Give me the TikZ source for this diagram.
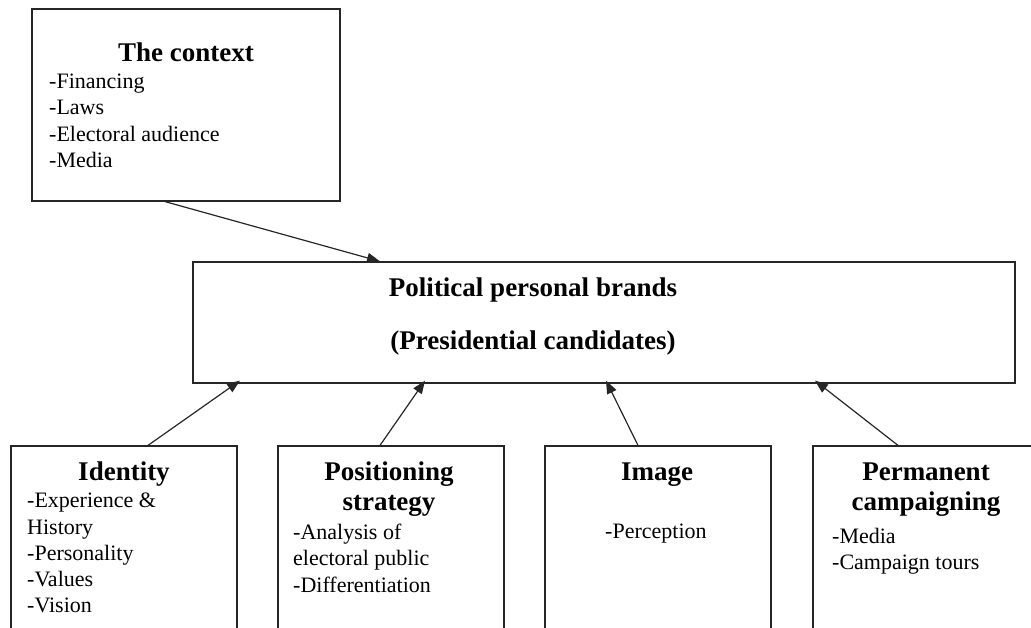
\documentclass[tikz,border=0pt]{standalone}
\usepackage{fontspec}
\setmainfont{Liberation Serif}
\usetikzlibrary{arrows.meta}
\begin{document}
\begin{tikzpicture}[x=1pt,y=-1pt,
		box/.style={draw=black!85,line width=1.2pt,rectangle,inner sep=0pt},
		head/.style={font=\fontsize{27}{30}\selectfont\bfseries,align=center,inner sep=0pt},
		items/.style={font=\fontsize{22}{26.2}\selectfont,align=left,anchor=north west,inner sep=0pt},
		link/.style={line width=1.2pt,draw=black!85,-{Triangle[length=13pt,width=10pt]}}]
				\useasboundingbox (0,0) rectangle (1031,628);
				\clip (0,0) rectangle (1031,628);
				\node[box,minimum width=308pt,minimum height=192pt] (ctx) at (186,105) {};
				\node[box,minimum width=822pt,minimum height=121pt] (brand) at (604,322.5) {};
				\node[box,minimum width=226pt,minimum height=254pt] (ident) at (124,573) {};
				\node[box,minimum width=226pt,minimum height=254pt] (pos) at (391,573) {};
				\node[box,minimum width=226pt,minimum height=254pt] (img) at (658,573) {};
				\node[box,minimum width=226pt,minimum height=254pt] (perm) at (926,573) {};
				\node[head,anchor=base] (ctxhead) at (186,62) {The context};
				\node[items] (ctxitems) at (49,74) {-Financing\\-Laws\\-Electoral audience\\-Media};
				\node[head,anchor=base] (brandhead) at (533,297) {Political personal brands};
				\node[head,anchor=base] (brandsub) at (533,350) {(Presidential candidates)};
				\node[head,anchor=base] (identhead) at (124,480) {Identity};
				\node[items] (identitems) at (27,493) {-Experience \&\\History\\-Personality\\-Values\\-Vision};
				\node[head,anchor=base] (poshead) at (389,480) {Positioning};
				\node[head,anchor=base] (possub) at (389,510) {strategy};
				\node[items] (positems) at (293,524) {-Analysis of\\electoral public\\-Differentiation};
				\node[head,anchor=base] (imghead) at (657,480) {Image};
				\node[items] (imgitems) at (605,524) {-Perception};
				\node[head,anchor=base] (permhead) at (926,480) {Permanent};
				\node[head,anchor=base] (permsub) at (926,510) {campaigning};
				\node[items] (permitems) at (832,528) {-Media\\-Campaign tours};
				\draw[link] ([xshift=-21pt]ctx.south) -- ([xshift=-224pt]brand.north);
				\draw[link] ([xshift=24pt]ident.north) -- ([xshift=-364pt,yshift=3pt]brand.south);
				\draw[link] ([xshift=-11pt]pos.north) -- ([xshift=-179pt,yshift=3pt]brand.south);
				\draw[link] ([xshift=-20pt]img.north) -- ([xshift=2pt,yshift=3pt]brand.south);
				\draw[link] ([xshift=-28pt]perm.north) -- ([xshift=211pt,yshift=3pt]brand.south);
\end{tikzpicture}
\end{document}
